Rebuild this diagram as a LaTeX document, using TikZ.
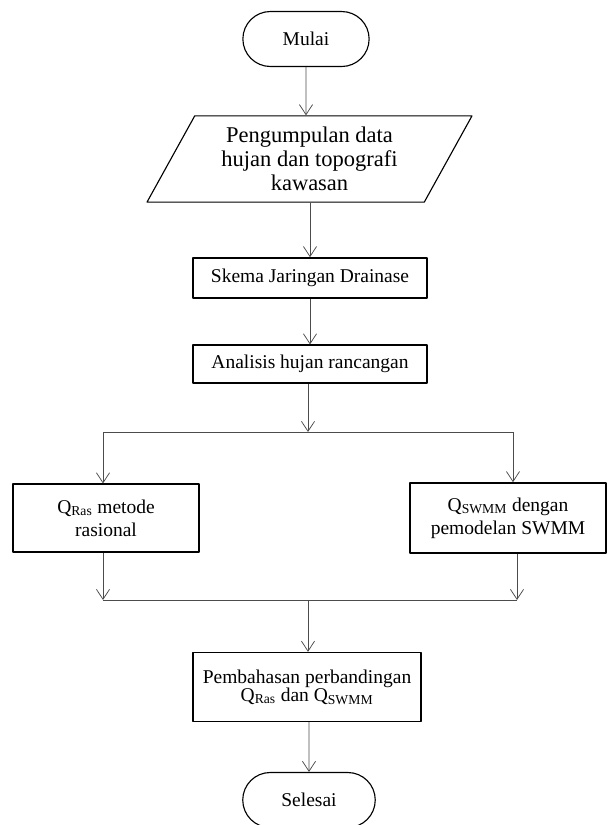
\documentclass[tikz,border=0pt]{standalone}
\usepackage{fontspec}
\setmainfont{Liberation Serif}
\usetikzlibrary{shapes.geometric,shapes.misc,arrows.meta}

\begin{document}
\begin{tikzpicture}[
  x=0.8pt,
  y=-0.8pt,
  line join=round,
  font=\fontsize{15.6}{18.5}\selectfont,
  terminal/.style={rounded rectangle,draw=black,line width=0.9pt,
    minimum width=101pt,minimum height=44pt,inner sep=0pt},
  iobox/.style={trapezium,trapezium left angle=53,trapezium right angle=127,
    trapezium stretches body=true,draw=black,line width=0.9pt,
    minimum width=260pt,minimum height=69pt,inner sep=0pt,align=center,
    font=\fontsize{18}{19}\selectfont},
  procbox/.style={rectangle,draw=black,line width=1.3pt,inner sep=0pt,
    align=center},
  link/.style={draw=black!70,line width=0.6pt},
  flow/.style={link,-{Straight Barb[length=8pt,width=10.5pt,line width=0.6pt]}}
]
  \useasboundingbox (0,0) rectangle (608,825);

  % top of the chart
  \node[terminal] (start) at (306,39) {Mulai};
  \node[iobox] (collect) at (309.5,159)
    {Pengumpulan data\\hujan dan topografi\\kawasan};
  \node[procbox,minimum width=187pt,minimum height=32pt] (scheme) at (310,278)
    {Skema Jaringan Drainase};
  \node[procbox,minimum width=187pt,minimum height=30pt] (rain) at (310,364)
    {Analisis hujan rancangan};
  \draw[flow] (start) -- (start |- collect.north);
  \draw[flow] (collect.south -| scheme) -- (scheme);
  \draw[flow] (scheme) -- (rain);

  % two ways to the discharge
  \coordinate (split) at (308,432);
  \coordinate (splitL) at (103,432);
  \coordinate (splitR) at (513,432);
  \node[procbox,minimum width=149pt,minimum height=54pt] (qras) at (106,518)
    {Q\textsubscript{Ras} metode\\rasional};
  \node[procbox,minimum width=157pt,minimum height=56pt] (qswmm) at (508,518)
    {Q\textsubscript{SWMM} dengan\\pemodelan SWMM};
  \draw[flow] (rain.south -| split) -- (split);
  \draw[link] (splitL) -- (splitR);
  \draw[flow] (splitL) -- (splitL |- qras.north);
  \draw[flow] (splitR) -- (splitR |- qswmm.north);

  % join and compare
  \coordinate (join) at (308,600);
  \coordinate (joinL) at (103,600);
  \coordinate (joinR) at (517,600);
  \draw[flow] (qras.south -| joinL) -- (joinL);
  \draw[flow] (qswmm.south -| joinR) -- (joinR);
  \draw[link] (joinL) -- (joinR);
  \node[procbox,minimum width=182pt,minimum height=55pt] (compare) at (307,687)
    {Pembahasan perbandingan\\[-4pt]Q\textsubscript{Ras} dan Q\textsubscript{SWMM}};
  \draw[flow] (join) -- (join |- compare.north);
  \node[terminal,minimum width=106pt] (finish) at (309,800) {Selesai};
  \draw[flow] (compare.south -| finish) -- (finish);
\end{tikzpicture}
\end{document}
